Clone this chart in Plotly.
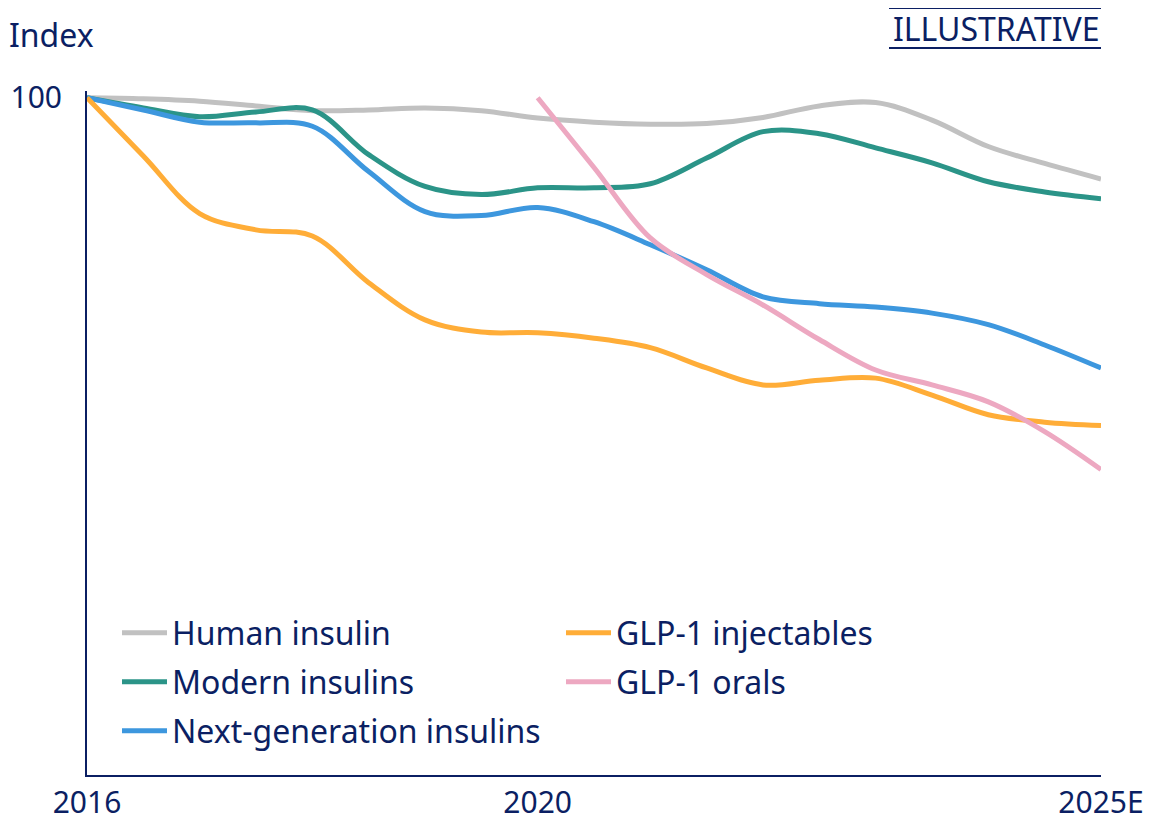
import plotly.graph_objects as go

# ---- data ----
years = [2016.0, 2016.5, 2017.0, 2017.5, 2018.0, 2018.5, 2019.0, 2019.5, 2020.0, 2020.5,
         2021.0, 2021.5, 2022.0, 2022.5, 2023.0, 2023.5, 2024.0, 2024.5, 2025.0]
human_insulin = [100.0, 99.85, 99.5, 98.8, 98.1, 98.2, 98.5, 98.1, 97.0, 96.4,
                 96.1, 96.2, 97.1, 98.8, 99.3, 96.7, 92.8, 90.3, 88.0]
modern_insulins = [100.0, 98.5, 97.2, 97.9, 98.2, 91.6, 86.9, 85.7, 86.7, 86.7,
                   87.3, 91.1, 95.0, 94.7, 92.6, 90.4, 87.6, 86.1, 85.1]
next_gen_insulins = [100.0, 98.2, 96.4, 96.3, 95.8, 89.1, 83.2, 82.6, 83.8, 81.7,
                     78.3, 74.6, 70.6, 69.6, 69.1, 68.2, 66.5, 63.5, 60.1]
glp1_injectables = [100.0, 91.4, 82.9, 80.5, 79.6, 72.7, 67.2, 65.4, 65.3, 64.5,
                    63.1, 60.1, 57.6, 58.3, 58.6, 56.1, 53.2, 52.1, 51.6]
orals_years = [2020.0, 2020.5, 2021.0, 2021.5, 2022.0, 2022.5, 2023.0, 2023.5, 2024.0, 2024.5, 2025.0]
glp1_orals = [100.0, 89.7, 79.3, 73.9, 69.4, 64.3, 59.8, 57.6, 55.1, 50.7, 45.1]

tick_vals = [2016, 2020, 2025]
tick_text = ["2016", "2020", "2025E"]

NAVY = "#0b1f63"
FONT = "Noto Sans"
FS = 32

series = [
    ("Human insulin", years, human_insulin, "#c1c1c1", "legend"),
    ("Modern insulins", years, modern_insulins, "#2b9488", "legend2"),
    ("Next-generation insulins", years, next_gen_insulins, "#3d97de", "legend3"),
    ("GLP-1 injectables", years, glp1_injectables, "#ffad38", "legend"),
    ("GLP-1 orals", orals_years, glp1_orals, "#eda8c1", "legend2"),
]

fig = go.Figure()
for name, xs, ys, color, lg in series:
    fig.add_trace(go.Scatter(
        x=xs, y=ys, name=name, mode="lines",
        line=dict(color=color, width=5, shape="spline", smoothing=1.0),
        legend=lg, hoverinfo="x+y+name",
    ))

# page body has an 8px margin: the figure is drawn from (8, 8)
OFF = 8
L, T, B, R = 87 - OFF, 91 - OFF, 47, 52
W, HT = 1153 - OFF, 822 - OFF
PW = W - L - R          # 1014
PH = HT - T - B         # 684
BOTTOM = 775 - OFF      # y pixel (in figure coords) of axis bottom


def py(ypix):
    return (BOTTOM - (ypix - OFF)) / PH


def px(xpix):
    return ((xpix - OFF) - L) / PW


legend_common = dict(
    orientation="h", xanchor="left", yanchor="middle", x=px(117),
    font=dict(family=FONT, size=FS, color=NAVY),
    entrywidth=384, entrywidthmode="pixels", bgcolor="rgba(0,0,0,0)",
    traceorder="normal", itemwidth=45,
)
fig.update_layout(
    width=W, height=HT,
    margin=dict(l=L, r=R, t=T, b=B, autoexpand=False),
    paper_bgcolor="white", plot_bgcolor="white",
    font=dict(family=FONT, size=FS, color=NAVY),
    legend=dict(legend_common, y=py(633)),
    legend2=dict(legend_common, y=py(682)),
    legend3=dict(legend_common, y=py(731)),
    xaxis=dict(
        range=[2016, 2025], tickvals=tick_vals, ticktext=tick_text, automargin=False,
        showgrid=False, zeroline=False, showline=True, linecolor=NAVY, linewidth=2,
        ticks="", tickfont=dict(family=FONT, size=30, color=NAVY), ticklabelstandoff=0,
    ),
    yaxis=dict(
        range=[0, 101], tickvals=[100], ticktext=["100"], automargin=False,
        showgrid=False, zeroline=False, showline=True, linecolor=NAVY, linewidth=2,
        ticks="", tickfont=dict(family=FONT, size=30, color=NAVY), ticklabelstandoff=17,
    ),
    annotations=[
        dict(text="Index", xref="paper", yref="paper", x=px(7), y=py(35),
             xanchor="left", yanchor="middle", showarrow=False,
             font=dict(family=FONT, size=FS, color=NAVY)),
        dict(text="ILLUSTRATIVE", xref="paper", yref="paper", x=px(1102), y=py(28),
             xanchor="right", yanchor="middle", showarrow=False,
             font=dict(family=FONT, size=FS, color=NAVY)),
    ],
    shapes=[
        dict(type="line", xref="paper", yref="paper", x0=px(889), x1=px(1101),
             y0=py(8), y1=py(8), line=dict(color=NAVY, width=2)),
        dict(type="line", xref="paper", yref="paper", x0=px(889), x1=px(1101),
             y0=py(48), y1=py(48), line=dict(color=NAVY, width=2)),
    ],
)

fig.write_html("out.html")
